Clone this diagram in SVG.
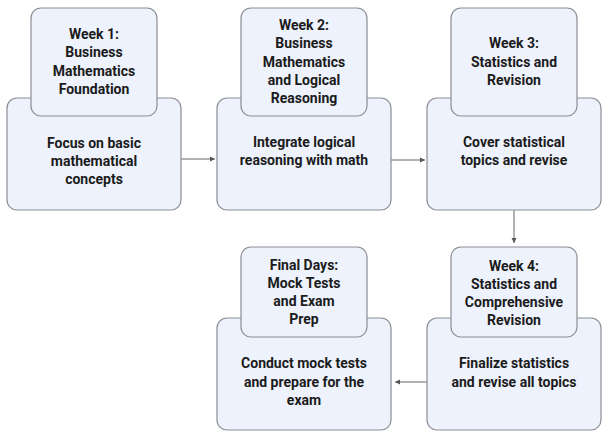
<svg xmlns="http://www.w3.org/2000/svg" width="610" height="438" viewBox="0 0 610 438">
<style>
.b{fill:#edf2fc;stroke:#8a8d93;stroke-width:1.2}
text{font-family:Roboto,"Liberation Sans",sans-serif;font-weight:bold;font-size:14px;fill:#1b1b1b;text-anchor:middle}
.c{stroke:#666;stroke-width:1;fill:none;marker-end:url(#a)}
</style>
<defs><marker id="a" markerWidth="6" markerHeight="6" refX="5" refY="3" orient="auto" markerUnits="userSpaceOnUse"><path d="M0,0.5L5,3L0,5.5z" fill="#555"/></marker></defs>
<rect width="610" height="438" fill="#fff"/>
<g id="connectors">
<path class="c" d="M181,159H215"/>
<path class="c" d="M391,160H425"/>
<path class="c" d="M514,210V243"/>
<path class="c" d="M427,382H395"/>
</g>
<g id="n1"><rect class="b" x="7" y="98" width="174" height="112" rx="10"/><rect class="b" x="31" y="8" width="126" height="108" rx="10"/>
<text x="94" y="39">Week 1:</text><text x="94" y="57">Business</text><text x="94" y="76">Mathematics</text><text x="94" y="94">Foundation</text>
<text x="94" y="148">Focus on basic</text><text x="94" y="166">mathematical</text><text x="94" y="184">concepts</text></g>
<g id="n2"><rect class="b" x="217" y="98" width="174" height="112" rx="10"/><rect class="b" x="241" y="8" width="126" height="108" rx="10"/>
<text x="304" y="30">Week 2:</text><text x="304" y="48">Business</text><text x="304" y="67">Mathematics</text><text x="304" y="85">and Logical</text><text x="304" y="103">Reasoning</text>
<text x="304" y="147">Integrate logical</text><text x="304" y="165">reasoning with math</text></g>
<g id="n3"><rect class="b" x="427" y="98" width="174" height="112" rx="10"/><rect class="b" x="451" y="8" width="126" height="108" rx="10"/>
<text x="514" y="48">Week 3:</text><text x="514" y="67">Statistics and</text><text x="514" y="85">Revision</text>
<text x="514" y="147">Cover statistical</text><text x="514" y="165">topics and revise</text></g>
<g id="n4"><rect class="b" x="427" y="318" width="174" height="112" rx="10"/><rect class="b" x="451" y="247" width="126" height="90" rx="10"/>
<text x="514" y="271">Week 4:</text><text x="514" y="289">Statistics and</text><text x="514" y="307">Comprehensive</text><text x="514" y="325">Revision</text>
<text x="514" y="368">Finalize statistics</text><text x="514" y="387">and revise all topics</text></g>
<g id="n5"><rect class="b" x="217" y="318" width="174" height="112" rx="10"/><rect class="b" x="241" y="247" width="126" height="90" rx="10"/>
<text x="304" y="270">Final Days:</text><text x="304" y="288">Mock Tests</text><text x="304" y="306">and Exam</text><text x="304" y="324">Prep</text>
<text x="304" y="368">Conduct mock tests</text><text x="304" y="387">and prepare for the</text><text x="304" y="405">exam</text></g>
</svg>
